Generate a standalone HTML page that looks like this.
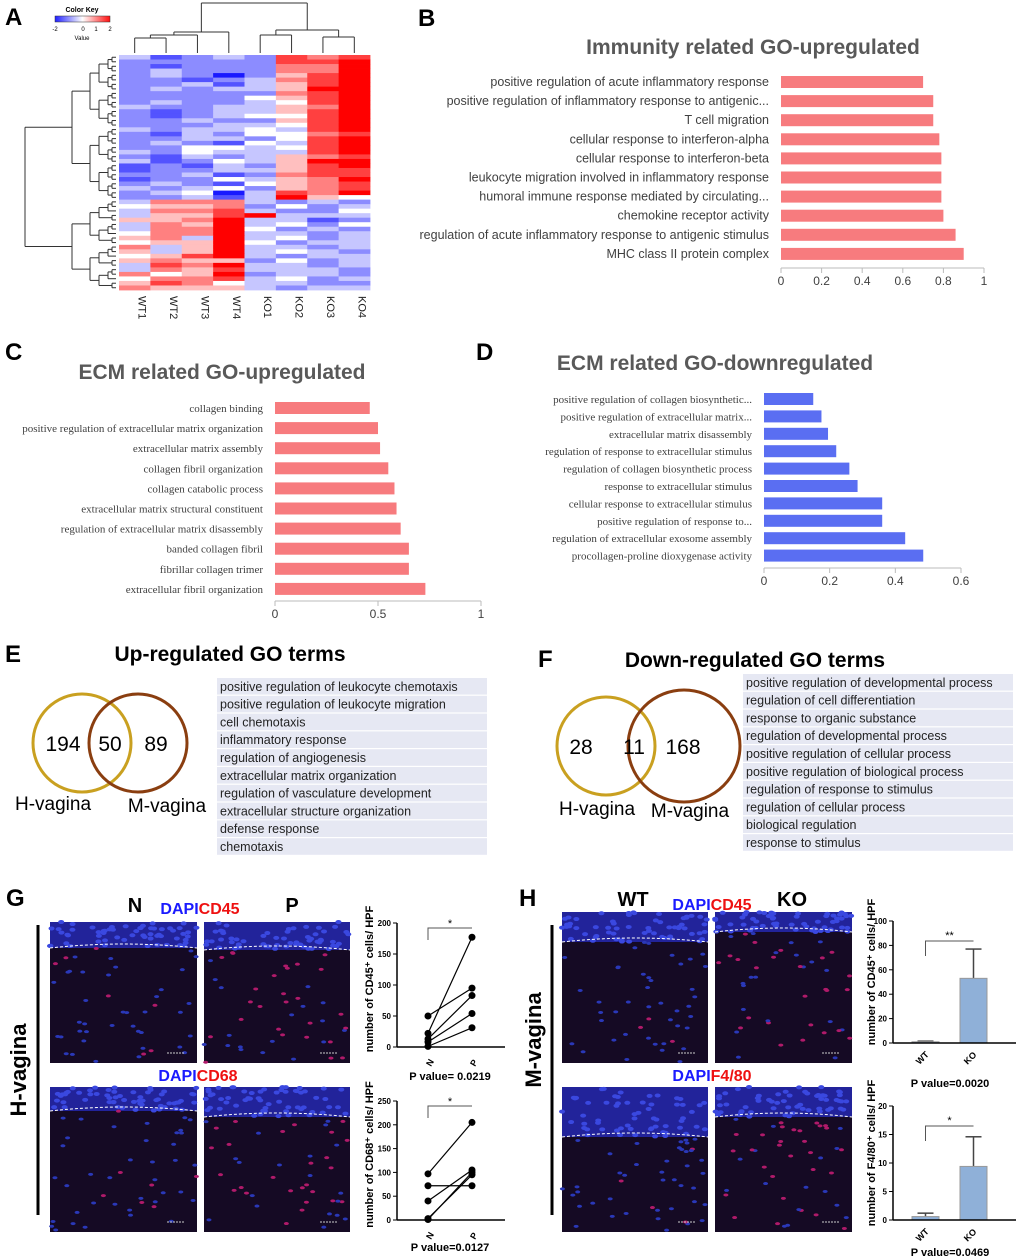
<!DOCTYPE html>
<html><head><meta charset="utf-8">
<style>
html,body{margin:0;padding:0;background:#fff;}
svg{display:block;font-family:"Liberation Sans",sans-serif;}
</style></head>
<body>
<svg id="fig" width="1020" height="1260" viewBox="0 0 1020 1260" xmlns="http://www.w3.org/2000/svg"></svg>
<script>
// ===== DATA =====
const heatCols = ["WT1","WT2","WT3","WT4","KO1","KO2","KO3","KO4"];
// heat rows: digits 0..8 map to -2..2
const heatRows = [
"31232767","22222778","21222668","23222668","23202578","22123678","22313578","23233588",
"22222678","22224578","23223478","32233568","21233578","21234478","22322578","22233478",
"32334378","21324467","22332478","23214378","22443478","32433378","21323567","31243588",
"12132578","12233577","22312677","12243568","23214567","32342567","23403768","22313854",
"36663232","45562423","36673224","35578333","55683312","36583424","36684232","46683323",
"56383423","45584233","63583323","53583432","45783233","56552423","37683323","36573332",
"64582332","46673423","57643322","65553233"
];
const upLabels = ["positive regulation of acute inflammatory response","positive regulation of inflammatory response to antigenic...","T cell migration","cellular response to interferon-alpha","cellular response to interferon-beta","leukocyte migration involved in inflammatory response","humoral immune response mediated by circulating...","chemokine receptor activity","regulation of acute inflammatory response to antigenic stimulus","MHC class II protein complex"];
const upValues = [0.70,0.75,0.75,0.78,0.79,0.79,0.79,0.80,0.86,0.90];
const upTicks = [0,0.2,0.4,0.6,0.8,1];
const ecmUpLabels = ["collagen binding","positive regulation of extracellular matrix organization","extracellular matrix assembly","collagen fibril organization","collagen catabolic process","extracellular matrix structural constituent","regulation of extracellular matrix disassembly","banded collagen fibril","fibrillar collagen trimer","extracellular fibril organization"];
const ecmUpValues = [0.46,0.50,0.51,0.55,0.58,0.59,0.61,0.65,0.65,0.73];
const ecmUpTicks = [0,0.5,1];
const ecmDownLabels = ["positive regulation of collagen biosynthetic...","positive regulation of extracellular matrix...","extracellular matrix disassembly","regulation of response to extracellular stimulus","regulation of collagen biosynthetic process","response to extracellular stimulus","cellular response to extracellular stimulus","positive regulation of response to...","regulation of extracellular exosome assembly","procollagen-proline dioxygenase activity"];
const ecmDownValues = [0.15,0.175,0.195,0.22,0.26,0.285,0.36,0.36,0.43,0.485];
const ecmDownTicks = [0,0.2,0.4,0.6];
const upGO = ["positive regulation of leukocyte chemotaxis","positive regulation of leukocyte migration","cell chemotaxis","inflammatory response","regulation of angiogenesis","extracellular matrix organization","regulation of vasculature development","extracellular structure organization","defense response","chemotaxis"];
const downGO = ["positive regulation of developmental process","regulation of cell differentiation","response to organic substance","regulation of developmental process","positive regulation of cellular process","positive regulation of biological process","regulation of response to stimulus","regulation of cellular process","biological regulation","response to stimulus"];
const vennUp = [194,50,89];
const vennDown = [28,11,168];
const cd45N = [50,22,13,8,1];
const cd45P = [95,177,83,54,31];
const cd45Ticks = [0,50,100,150,200];
const cd68N = [97,72,40,3,1];
const cd68P = [205,72,105,95,100];
const cd68Ticks = [0,50,100,150,200,250];
const mCd45 = [1,53]; const mCd45Err = [0.5,24]; const mCd45Ticks=[0,20,40,60,80,100];
const mF480 = [0.6,9.4]; const mF480Err = [0.6,5.2]; const mF480Ticks=[0,5,10,15,20];

// ===== HELPERS =====
const NS="http://www.w3.org/2000/svg";
const svg=document.getElementById('fig');
function mk(tag,attrs,parent,txt){const e=document.createElementNS(NS,tag);for(const k in attrs)e.setAttribute(k,attrs[k]);if(txt!==undefined)e.textContent=txt;(parent||svg).appendChild(e);return e;}
function grp(name){const g=mk('g',{});


return g;}
function label(t,x,y,name){const e=mk('text',{x:x,y:y,'font-size':24,'font-weight':'bold',fill:'#000'},svg,t);


}
label('A',5,25,'panel-label-a');label('B',418,26,'panel-label-b');label('C',5,360,'panel-label-c');
label('D',476,360,'panel-label-d');label('E',5,662,'panel-label-e');label('F',538,667,'panel-label-f');
label('G',6,906,'panel-label-g');label('H',519,906,'panel-label-h');

// ===== A: heatmap =====
(function(){
const g=grp('heatmap');
const x0=119,x1=370,y0=55,y1=290;
const cw=(x1-x0)/heatCols.length, rh=(y1-y0)/heatRows.length;
function col(v){
 const t=Math.max(-1,Math.min(1,v/2));
 if(t<0){const a=-t;return `rgb(${Math.round(255-a*230)},${Math.round(255-a*230)},255)`;}
 return `rgb(255,${Math.round(255-t*255)},${Math.round(255-t*255)})`;}
heatRows.forEach((r,i)=>{for(let j=0;j<8;j++){const v=(parseInt(r[j])-4)/2;
 const c=mk('rect',{x:x0+j*cw,y:y0+i*rh,width:cw+0.4,height:rh+0.4,fill:col(v)},g);
 
 
}});
heatCols.forEach((n,j)=>{const cx=x0+(j+0.5)*cw+4;const t=mk('text',{x:0,y:0,'font-size':11,transform:`translate(${cx},296) rotate(90)`,fill:'#222'},g,n);
 
 
});
const cx=j=>x0+(j+0.5)*cw; const L=(a,b,c,d)=>mk('line',{x1:a,y1:b,x2:c,y2:d,stroke:'#333','stroke-width':1},g);
function U(xa,xb,yTop,ya,yb){L(xa,ya,xa,yTop);L(xb,yb,xb,yTop);L(xa,yTop,xb,yTop);}
U(cx(0),cx(1),38,53,53);U((cx(0)+cx(1))/2,cx(2),35,38,53);U(((cx(0)+cx(1))/2+cx(2))/2,cx(3),32,35,53);
U(cx(4),cx(5),35,53,53);U(cx(6),cx(7),37,53,53);U((cx(4)+cx(5))/2,(cx(6)+cx(7))/2,30,35,37);
U((((cx(0)+cx(1))/2+cx(2))/2+cx(3))/2,((cx(4)+cx(5))/2+(cx(6)+cx(7))/2)/2,3,32,30);
const kg=grp('color-key');
const gr=mk('linearGradient',{id:'kgr'},mk('defs',{},kg));
[['0','#2020ff'],['0.5','#ffffff'],['1','#ff1010']].forEach(s=>mk('stop',{offset:s[0],'stop-color':s[1]},gr));
mk('rect',{x:55,y:16,width:55,height:6,fill:'url(#kgr)',stroke:'#333','stroke-width':0.5},kg);
mk('text',{x:82,y:12,'font-size':7,'text-anchor':'middle','font-weight':'bold'},kg,'Color Key');
[['-2',55],['0',83],['1',96],['2',110]].forEach(a=>mk('text',{x:a[1],y:31,'font-size':6,'text-anchor':'middle'},kg,a[0]));
mk('text',{x:82,y:40,'font-size':6,'text-anchor':'middle'},kg,'Value');
const ly=i=>y0+(i+0.5)*rh; const n=heatRows.length;
function tree(a,b,depth){ if(b-a<1){return {y:ly(a),x:116};}
 const m=Math.floor((a+b)/2); const l=tree(a,m,depth+1), r=tree(m+1,b,depth+1);
 const x=Math.min(l.x,r.x)-(depth<2?18:(depth<4?9:4));
 L(l.x,l.y,x,l.y);L(r.x,r.y,x,r.y);L(x,l.y,x,r.y);return {x:x,y:(l.y+r.y)/2};}
const t1=tree(0,31,1), t2=tree(32,n-1,1);
const rx=25; L(t1.x,t1.y,rx,t1.y);L(t2.x,t2.y,rx,t2.y);L(rx,t1.y,rx,t2.y);
})();

// ===== horizontal bar chart =====
function hbar(name,title,tx,ty,labels,values,ticks,xa,xb,ya,step,color,font,fs,axisY){
 const g=grp(name); const max=ticks[ticks.length-1]; const X=v=>xa+(xb-xa)*v/max;
 const tt=mk('text',{x:tx,y:ty,'font-size':21,'font-weight':'bold',fill:'#595959','text-anchor':'middle'},g,title);
 
 
 labels.forEach((lb,i)=>{const y=ya+i*step;
  const r=mk('rect',{x:X(0),y:y-6,width:X(values[i])-X(0),height:12,fill:color},g);
  
  
  const t=mk('text',{x:X(0)-12,y:y+4,'font-size':fs,'text-anchor':'end',fill:'#404040','font-family':font},g,lb);
  
  
 });
 mk('line',{x1:X(0),y1:axisY,x2:X(max),y2:axisY,stroke:'#bbb'},g);
 ticks.forEach(v=>{mk('line',{x1:X(v),y1:axisY,x2:X(v),y2:axisY+5,stroke:'#bbb'},g);
  const t=mk('text',{x:X(v),y:axisY+17,'font-size':12,'text-anchor':'middle',fill:'#404040'},g,String(v));
  
  
 });
}
hbar('chart-immunity-up','Immunity related GO-upregulated',753,54,upLabels,upValues,upTicks,781,984,82,19.1,'#f77b7e','"Liberation Sans",sans-serif',12.5,268);
hbar('chart-ecm-up','ECM related GO-upregulated',222,379,ecmUpLabels,ecmUpValues,ecmUpTicks,275,481,408,20.1,'#f77b7e','"Liberation Serif",serif',11,601);
hbar('chart-ecm-down','ECM related GO-downregulated',715,370,ecmDownLabels,ecmDownValues,ecmDownTicks,764,961,399,17.4,'#5a6ef2','"Liberation Serif",serif',11,568);

// ===== Venn + lists =====
function venn(name,title,tx,ty,c1,c2,vals,lbls,hl,ml,lx,ly0,items,step,w){
 const g=grp(name);
 const tt=mk('text',{x:tx,y:ty,'font-size':21,'font-weight':'bold','text-anchor':'middle'},g,title);
 
 
 mk('circle',{cx:c1[0],cy:c1[1],r:c1[2],fill:'none',stroke:'#c9a020','stroke-width':3},g);
 mk('circle',{cx:c2[0],cy:c2[1],r:c2[2],fill:'none',stroke:'#8a3e10','stroke-width':3},g);
 vals.forEach((v,i)=>{const t=mk('text',{x:lbls[i],y:c1[1]+8,'font-size':21,'text-anchor':'middle'},g,String(v));
  
  
 });
 mk('text',{x:hl[0],y:hl[1],'font-size':19,'text-anchor':'middle'},g,'H-vagina');
 mk('text',{x:ml[0],y:ml[1],'font-size':19,'text-anchor':'middle'},g,'M-vagina');
 items.forEach((it,i)=>{const y=ly0+i*step;
  mk('rect',{x:lx,y:y,width:w,height:step-1.2,fill:'#e6e8f3'},g);
  const t=mk('text',{x:lx+3,y:y+step-5,'font-size':12.5,fill:'#222'},g,it);
  
  
 });
}
venn('venn-up','Up-regulated GO terms',230,661,[82,743,49],[138,743,49],vennUp,[63,110,156],[53,810],[167,812],217,678,upGO,17.8,270);
venn('venn-down','Down-regulated GO terms',755,667,[606,746,49],[684,746,56],vennDown,[581,634,683],[597,815],[690,817],743,674,downGO,17.8,270);

// ===== micrographs =====
let seed=7; function rnd(){seed=(seed*16807)%2147483647;return seed/2147483647;}
function micro(name,x,y,w,h,band,red){
 const g=grp(name);
 mk('rect',{x:x,y:y,width:w,height:h,fill:'#150a24'},g);
 mk('rect',{x:x,y:y,width:w,height:band,fill:'#22239a'},g);
 for(let i=0;i<60;i++)mk('ellipse',{cx:x+rnd()*w,cy:y+rnd()*band,rx:3,ry:2,fill:'#3a48e0'},g);
 for(let i=0;i<45;i++)mk('ellipse',{cx:x+rnd()*w,cy:y+band+rnd()*(h-band),rx:2.5,ry:1.5,fill:rnd()<red?'#b01a6a':'#2a38b8'},g);
 mk('path',{d:`M${x} ${y+band} Q${x+w/2} ${y+band-8} ${x+w} ${y+band}`,stroke:'#fff','stroke-dasharray':'3,2',fill:'none'},g);
 mk('line',{x1:x+w-30,y1:y+h-10,x2:x+w-12,y2:y+h-10,stroke:'#ccc','stroke-dasharray':'2,1'},g);
}
micro('image-h-n-cd45',50,922,147,141,26,0.1);micro('image-h-p-cd45',204,922,146,141,28,0.6);
micro('image-h-n-cd68',50,1087,147,145,24,0.15);micro('image-h-p-cd68',204,1087,146,145,30,0.6);
micro('image-m-wt-cd45',562,912,146,151,30,0.1);micro('image-m-ko-cd45',715,912,137,151,20,0.5);
micro('image-m-wt-f480',562,1087,146,145,50,0.1);micro('image-m-ko-f480',715,1087,137,145,30,0.5);
function txt(t,x,y,fs,fill,name,extra){const e=mk('text',Object.assign({x:x,y:y,'font-size':fs,'font-weight':'bold',fill:fill,'text-anchor':'middle'},extra||{}),svg,t);
 
 
 return e;}
txt('N',135,912,20,'#000','label-n');txt('P',292,912,20,'#000','label-p');
txt('WT',633,906,20,'#000','label-wt');txt('KO',792,906,20,'#000','label-ko');
function dapi(x,y,b,name){const e=mk('text',{x:x,y:y,'font-size':16,'font-weight':'bold','text-anchor':'middle'});
 
 
 mk('tspan',{fill:'#1a1aff'},e,'DAPI');mk('tspan',{fill:'#ee1111'},e,b);}
dapi(200,914,'CD45','stain-label-cd45-h');dapi(198,1081,'CD68','stain-label-cd68');
dapi(712,910,'CD45','stain-label-cd45-m');dapi(712,1081,'F4/80','stain-label-f480');
mk('line',{x1:38,y1:925,x2:38,y2:1215,stroke:'#000','stroke-width':3});
mk('line',{x1:552,y1:925,x2:552,y2:1215,stroke:'#000','stroke-width':3});
txt('H-vagina',0,0,22,'#000','h-vagina-axis',{transform:'translate(26,1070) rotate(-90)'});
txt('M-vagina',0,0,22,'#000','m-vagina-axis',{transform:'translate(541,1040) rotate(-90)'});

// ===== paired plots =====
function paired(name,N,P,ticks,ax,y0,yt,ylab,pval,star,py){
 const g=grp(name); const max=ticks[ticks.length-1]; const Y=v=>y0-(y0-yt)*v/max; const xN=428,xP=472;
 mk('line',{x1:ax,y1:Y(0),x2:ax,y2:Y(max),stroke:'#000','stroke-width':1.5},g);
 mk('line',{x1:ax,y1:Y(0),x2:505,y2:Y(0),stroke:'#000','stroke-width':1.5},g);
 ticks.forEach(v=>{mk('line',{x1:ax-4,y1:Y(v),x2:ax,y2:Y(v),stroke:'#000'},g);
  const t=mk('text',{x:ax-6,y:Y(v)+3,'font-size':8,'font-weight':'bold','text-anchor':'end'},g,String(v));
  
  
 });
 N.forEach((n,i)=>{mk('line',{x1:xN,y1:Y(n),x2:xP,y2:Y(P[i]),stroke:'#000','stroke-width':1.2},g);
  const a=mk('circle',{cx:xN,cy:Y(n),r:3.5},g);
  
  
  const b=mk('circle',{cx:xP,cy:Y(P[i]),r:3.5},g);
  
  
 });
 mk('path',{d:`M${xN} ${yt+17} V${yt+5} H${xP}`,stroke:'#555',fill:'none'},g);
 mk('text',{x:(xN+xP)/2,y:yt+4,'font-size':11,'text-anchor':'middle'},g,star);
 mk('text',{x:0,y:0,'font-size':9,'font-weight':'bold',transform:`translate(${xN+3},${y0+20}) rotate(-60)`},g,'N');
 mk('text',{x:0,y:0,'font-size':9,'font-weight':'bold',transform:`translate(${xP+3},${y0+20}) rotate(-60)`},g,'P');
 mk('text',{x:0,y:0,'font-size':11,'font-weight':'bold','text-anchor':'middle',transform:`translate(373,${(y0+yt)/2-6}) rotate(-90)`},g,ylab);
 mk('text',{x:450,y:py,'font-size':11,'font-weight':'bold','text-anchor':'middle'},g,pval);
}
paired('chart-cd45-h',cd45N,cd45P,cd45Ticks,397,1047,923,'number of CD45⁺ cells/ HPF','P value= 0.0219','*',1080);
paired('chart-cd68-h',cd68N,cd68P,cd68Ticks,397,1220,1101,'number of CD68⁺ cells/ HPF','P value=0.0127','*',1251);

// ===== bar plots =====
function barplot(name,vals,errs,ticks,y0,yt,ylab,pval,star,py){
 const g=grp(name); const max=ticks[ticks.length-1]; const Y=v=>y0-(y0-yt)*v/max; const ax=907;
 const xs=[912,960]; const bw=27;
 ['WT','KO'].forEach((n,i)=>{const x=xs[i];
  mk('line',{x1:x+bw/2,y1:Y(vals[i]),x2:x+bw/2,y2:Y(vals[i]+errs[i]),stroke:'#444','stroke-width':1.5},g);
  mk('line',{x1:x+bw/2-8,y1:Y(vals[i]+errs[i]),x2:x+bw/2+8,y2:Y(vals[i]+errs[i]),stroke:'#444','stroke-width':1.5},g);
  const r=mk('rect',{x:x,y:Y(vals[i]),width:bw,height:Y(0)-Y(vals[i]),fill:'#8fb0d8',stroke:'#999','stroke-width':1},g);
  
  
  mk('text',{x:0,y:0,'font-size':9,'font-weight':'bold',transform:`translate(${x+bw/2-6},${y0+22}) rotate(-45)`},g,n);
 });
 mk('line',{x1:ax-14,y1:Y(0),x2:ax-14,y2:Y(max),stroke:'#000','stroke-width':1.5},g);
 mk('line',{x1:ax-14,y1:Y(0),x2:1016,y2:Y(0),stroke:'#000','stroke-width':1.5},g);
 ticks.forEach(v=>{mk('line',{x1:ax-18,y1:Y(v),x2:ax-14,y2:Y(v),stroke:'#000'},g);
  const t=mk('text',{x:ax-20,y:Y(v)+3,'font-size':8,'font-weight':'bold','text-anchor':'end'},g,String(v));
  
  
 });
 mk('path',{d:`M${xs[0]+bw/2} ${yt+35} V${yt+20} H${xs[1]+bw/2}`,stroke:'#555',fill:'none'},g);
 mk('text',{x:(xs[0]+xs[1]+bw)/2,y:yt+18,'font-size':11,'text-anchor':'middle'},g,star);
 mk('text',{x:0,y:0,'font-size':11,'font-weight':'bold','text-anchor':'middle',transform:`translate(875,${(y0+yt)/2-10}) rotate(-90)`},g,ylab);
 mk('text',{x:950,y:py,'font-size':11,'font-weight':'bold','text-anchor':'middle'},g,pval);
}
barplot('chart-cd45-m',mCd45,mCd45Err,mCd45Ticks,1043,921,'number of CD45⁺ cells/ HPF','P value=0.0020','**',1087);
barplot('chart-f480-m',mF480,mF480Err,mF480Ticks,1220,1106,'number of F4/80⁺ cells/ HPF','P value=0.0469','*',1256);
</script>
</body></html>
